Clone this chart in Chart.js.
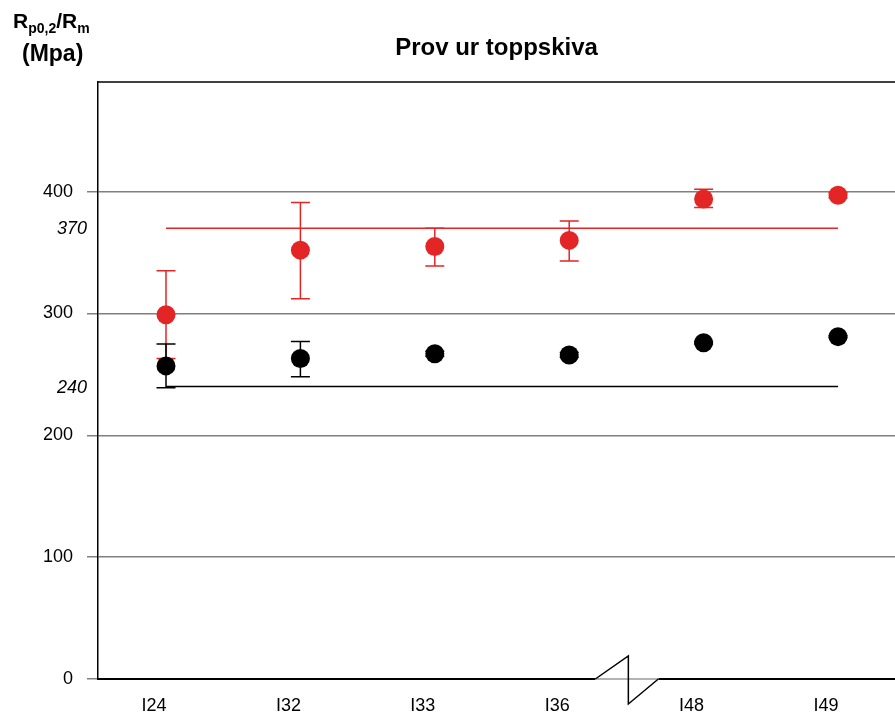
<!DOCTYPE html>
<html>
<head>
<meta charset="utf-8">
<title>Prov ur toppskiva</title>
<script src="https://cdn.jsdelivr.net/npm/chart.js@4/dist/chart.umd.min.js"></script>
<style>
  html, body { margin: 0; padding: 0; background: #ffffff; }
  #wrap { width: 895px; height: 718px; }
</style>
</head>
<body>
<div id="wrap"><canvas id="c" width="895" height="718"></canvas></div>
<script>
// Sample positions along the top plate
const categories = ['I24', 'I32', 'I33', 'I36', 'I48', 'I49'];

// Tensile strength Rm (MPa): mean, lower and upper spread
const rmMean = [299, 352, 355, 360, 394, 397];
const rmLow  = [263, 312, 339, 343, 387, 395];
const rmHigh = [335, 391, 370, 376, 402, 399];

// Yield strength Rp0,2 (MPa): mean, lower and upper spread
const rpMean = [257, 263, 267, 266, 276, 281];
const rpLow  = [239, 248, 265, 264, 275, 280];
const rpHigh = [275, 277, 269, 268, 277, 282];

// Requirement levels
const rmRequired = 370;
const rpRequired = 240;

// Y axis tick values
const yTicks = [0, 100, 200, 300, 400];

// Axis break sits between I36 and I48
const breakAt = 3.44;

const RED = '#e32526';
const BLACK = '#000000';
const FONT = '"Liberation Sans", Arial, Helvetica, sans-serif';

const toPoints = arr => arr.map((v, i) => ({ x: i, y: v }));

const errorSets = [
  { low: rmLow, high: rmHigh, color: RED },
  { low: rpLow, high: rpHigh, color: BLACK }
];

const decorPlugin = {
  id: 'decor',
  beforeDatasetsDraw(chart) {
    const { ctx, chartArea } = chart;
    const xs = chart.scales.x, ys = chart.scales.y;
    ctx.save();
    // requirement lines
    [[rmRequired, RED], [rpRequired, BLACK]].forEach(([v, col]) => {
      const y = ys.getPixelForValue(v);
      ctx.strokeStyle = col;
      ctx.lineWidth = 1.5;
      ctx.beginPath();
      ctx.moveTo(xs.getPixelForValue(0), y);
      ctx.lineTo(xs.getPixelForValue(categories.length - 1), y);
      ctx.stroke();
    });
    // italic requirement labels on the left
    ctx.font = 'italic 18px ' + FONT;
    ctx.fillStyle = '#000';
    ctx.textAlign = 'right';
    ctx.textBaseline = 'middle';
    [rmRequired, rpRequired].forEach(v => {
      ctx.fillText(String(v), chartArea.left - 11, ys.getPixelForValue(v) + 1);
    });
    // error bars
    errorSets.forEach(s => {
      ctx.strokeStyle = s.color;
      ctx.lineWidth = 1.5;
      s.low.forEach((lo, i) => {
        const x = xs.getPixelForValue(i);
        const y1 = ys.getPixelForValue(lo);
        const y2 = ys.getPixelForValue(s.high[i]);
        ctx.beginPath();
        ctx.moveTo(x, y1); ctx.lineTo(x, y2);
        ctx.moveTo(x - 9.5, y1); ctx.lineTo(x + 9.5, y1);
        ctx.moveTo(x - 9.5, y2); ctx.lineTo(x + 9.5, y2);
        ctx.stroke();
      });
    });
    ctx.restore();
  },
  afterDraw(chart) {
    const { ctx, chartArea } = chart;
    const xs = chart.scales.x;
    ctx.save();
    // top frame line
    ctx.strokeStyle = '#000';
    ctx.lineWidth = 1.5;
    ctx.beginPath();
    ctx.moveTo(chartArea.left, chartArea.top);
    ctx.lineTo(chartArea.right, chartArea.top);
    ctx.stroke();

    // axis break symbol
    const bx = xs.getPixelForValue(breakAt);
    const by = chartArea.bottom;
    ctx.strokeStyle = '#ffffff';
    ctx.lineWidth = 3;
    ctx.beginPath();
    ctx.moveTo(bx - 33, by); ctx.lineTo(bx + 30, by);
    ctx.stroke();
    ctx.strokeStyle = '#9a9a9a';
    ctx.lineWidth = 1.5;
    ctx.beginPath();
    ctx.moveTo(bx - 33, by); ctx.lineTo(bx + 30, by);
    ctx.stroke();
    ctx.strokeStyle = '#000';
    ctx.lineWidth = 1.5;
    ctx.beginPath();
    ctx.moveTo(bx - 33, by);
    ctx.lineTo(bx, by - 23);
    ctx.lineTo(bx, by + 25);
    ctx.lineTo(bx + 30, by);
    ctx.stroke();

    // chart title
    ctx.fillStyle = '#000';
    ctx.textAlign = 'center';
    ctx.textBaseline = 'alphabetic';
    ctx.font = 'bold 24px ' + FONT;
    ctx.fillText('Prov ur toppskiva', (chartArea.left + chartArea.right) / 2, 55);

    // y axis title with subscripts
    ctx.textAlign = 'left';
    let x = 13;
    const parts = [
      ['R', 21, 28], ['p0,2', 14, 33], ['/R', 21, 28], ['m', 14, 33]
    ];
    parts.forEach(([t, size, base]) => {
      ctx.font = 'bold ' + size + 'px ' + FONT;
      ctx.fillText(t, x, base);
      x += ctx.measureText(t).width;
    });
    ctx.font = 'bold 23px ' + FONT;
    ctx.fillText('(Mpa)', 22, 61);
    ctx.restore();
  }
};

new Chart(document.getElementById('c'), {
  type: 'scatter',
  data: {
    datasets: [
      {
        label: 'Rm',
        data: toPoints(rmMean),
        backgroundColor: RED,
        borderWidth: 0,
        pointRadius: 9.5,
        pointHoverRadius: 9.5
      },
      {
        label: 'Rp0,2',
        data: toPoints(rpMean),
        backgroundColor: BLACK,
        borderWidth: 0,
        pointRadius: 9.5,
        pointHoverRadius: 9.5
      }
    ]
  },
  options: {
    responsive: false,
    animation: false,
    layout: { autoPadding: false, padding: { top: 82, left: 0, right: 0, bottom: 0 } },
    plugins: {
      legend: { display: false },
      title: { display: false },
      tooltip: { enabled: false }
    },
    scales: {
      x: {
        type: 'linear',
        min: -0.506,
        max: 5.424,
        afterBuildTicks: s => { s.ticks = categories.map((_, i) => ({ value: i })); },
        afterFit: s => { s.height = 39; s.paddingLeft = 0; s.paddingRight = 0; },
        grid: { display: false, drawTicks: false },
        border: { display: true, color: '#000', width: 2 },
        ticks: {
          autoSkip: false,
          maxRotation: 0,
          padding: 16,
          labelOffset: -12,
          color: '#000',
          font: { family: FONT, size: 18 },
          callback: v => categories[v] ?? ''
        }
      },
      y: {
        min: 0,
        max: 490,
        afterBuildTicks: s => { s.ticks = yTicks.map(v => ({ value: v })); },
        afterFit: s => { s.width = 98; s.paddingTop = 0; s.paddingBottom = 0; },
        grid: { color: '#808080', lineWidth: 1.5, tickLength: 11, drawTicks: true },
        border: { display: true, color: '#000', width: 1.5 },
        ticks: {
          padding: 14,
          color: '#000',
          font: { family: FONT, size: 18 }
        }
      }
    }
  },
  plugins: [decorPlugin]
});
</script>
</body>
</html>
